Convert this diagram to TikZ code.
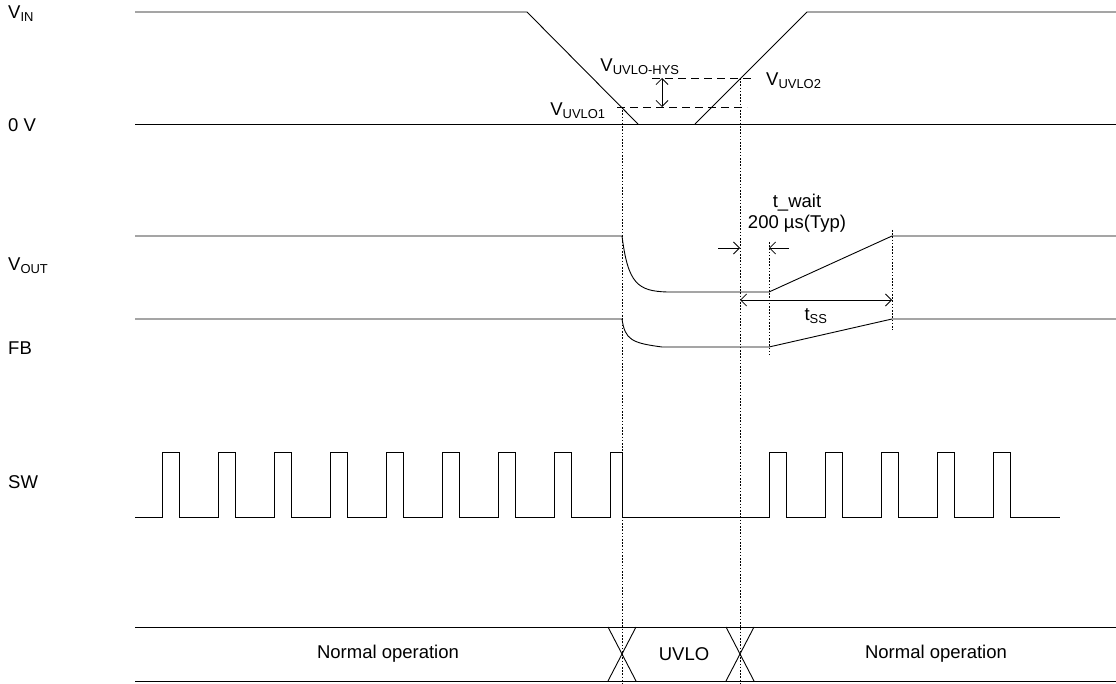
\documentclass[tikz,border=0pt]{standalone}
\usepackage{fontspec}
\setmainfont{Liberation Sans}
\usepackage{tikz}
\usetikzlibrary{arrows.meta,positioning,calc}

\tikzset{
  wave/.style={line width=0.9pt},
  guide/.style={line width=0.8pt, dash pattern=on 1.6pt off 1.6pt},
  level/.style={line width=0.8pt, dash pattern=on 8pt off 5pt},
  dim/.style={line width=0.8pt, {Straight Barb[length=6pt,width=12pt]}-{Straight Barb[length=6pt,width=12pt]}},
  dimto/.style={line width=0.8pt, -{Straight Barb[length=6pt,width=12pt]}},
  sig/.style={anchor=west, inner sep=0pt},
  txt/.style={inner sep=0pt}
}

\begin{document}
\begin{tikzpicture}[x=1pt, y=-1pt, font=\fontsize{18.5}{22}\selectfont]
\useasboundingbox (0,0) rectangle (1116,684);

\node[sig] (VinLbl)  at (8,14)   {V\textsubscript{IN}};
\node[sig] (ZeroLbl) at (8,125)  {0 V};
\node[sig] (VoutLbl) at (8,266)  {V\textsubscript{OUT}};
\node[sig] (FbLbl)   at (8,348)  {FB};
\node[sig] (SwLbl)   at (8,482)  {SW};

% input voltage
\draw[wave] (135,12) -- (527,12) -- (638,124);
\draw[wave] (695,124) -- (807,12) -- (1116,12);
\draw[wave] (135,124) -- (1116,124);

\coordinate (Uvlo1) at (622,107);
\coordinate (Uvlo2) at (740,78);
\draw[level] (617,107) -- (747,107);
\draw[level] (652,78) -- (752,78);
\draw[dim] (662,78) -- (662,107);

\node[txt] (HysLbl)   at (640,67)  {V\textsubscript{UVLO-HYS}};
\node[txt] (Uvlo2Lbl) [anchor=west] at (766,81) {V\textsubscript{UVLO2}};
\node[txt] (Uvlo1Lbl) at (578,111) {V\textsubscript{UVLO1}};

% output and feedback
\draw[wave] (135,236) -- (622,236) .. controls (628,284) and (638,291) .. (667,292)
  -- (769,292) -- (892,236) -- (1116,236);
\draw[wave] (135,319) -- (622,319) .. controls (625,340) and (632,343) .. (662,347)
  -- (769,347) -- (892,319) -- (1116,319);

\coordinate (Start) at (769,242);
\coordinate (Done)  at (892,230);
\draw[guide] (Uvlo1) -- (622,684);
\draw[guide] (Uvlo2) -- (740,684);
\draw[guide] (Start) -- (769,355);
\draw[guide] (Done)  -- (892,330);

\draw[dimto] (718,248) -- (740,248);
\draw[dimto] (789,248) -- (769,248);
\node[txt] (WaitLbl) at (797,203) {t\_wait};
\node[txt] (TypLbl)  at (797,224) {200 µs(Typ)};

\draw[dim] (740,300) -- (892,300);
\node[txt] (SsLbl) at (816,316) {t\textsubscript{SS}};

% switching node
\draw[wave] (135,517)
  \foreach \x in {162,218,...,554} { -- (\x,517) -- (\x,452) -- (\x+17,452) -- (\x+17,517) }
  -- (610,517) -- (610,452) -- (622,452) -- (622,517) -- (769,517)
  \foreach \x in {769,825,...,993} { -- (\x,517) -- (\x,452) -- (\x+17,452) -- (\x+17,517) }
  -- (1060,517);

% state bus
\draw[wave] (135,627) -- (1116,627);
\draw[wave] (135,681) -- (1116,681);
\foreach \c in {622,740} {
  \draw[wave] (\c-14,627) -- (\c+14,681);
  \draw[wave] (\c-14,681) -- (\c+14,627);
}
\node[txt] (NormA) at (388,654) {Normal operation};
\node[txt] (Uvlo)  at (684,654) {UVLO};
\node[txt] (NormB) at (936,654) {Normal operation};

\end{tikzpicture}
\end{document}
